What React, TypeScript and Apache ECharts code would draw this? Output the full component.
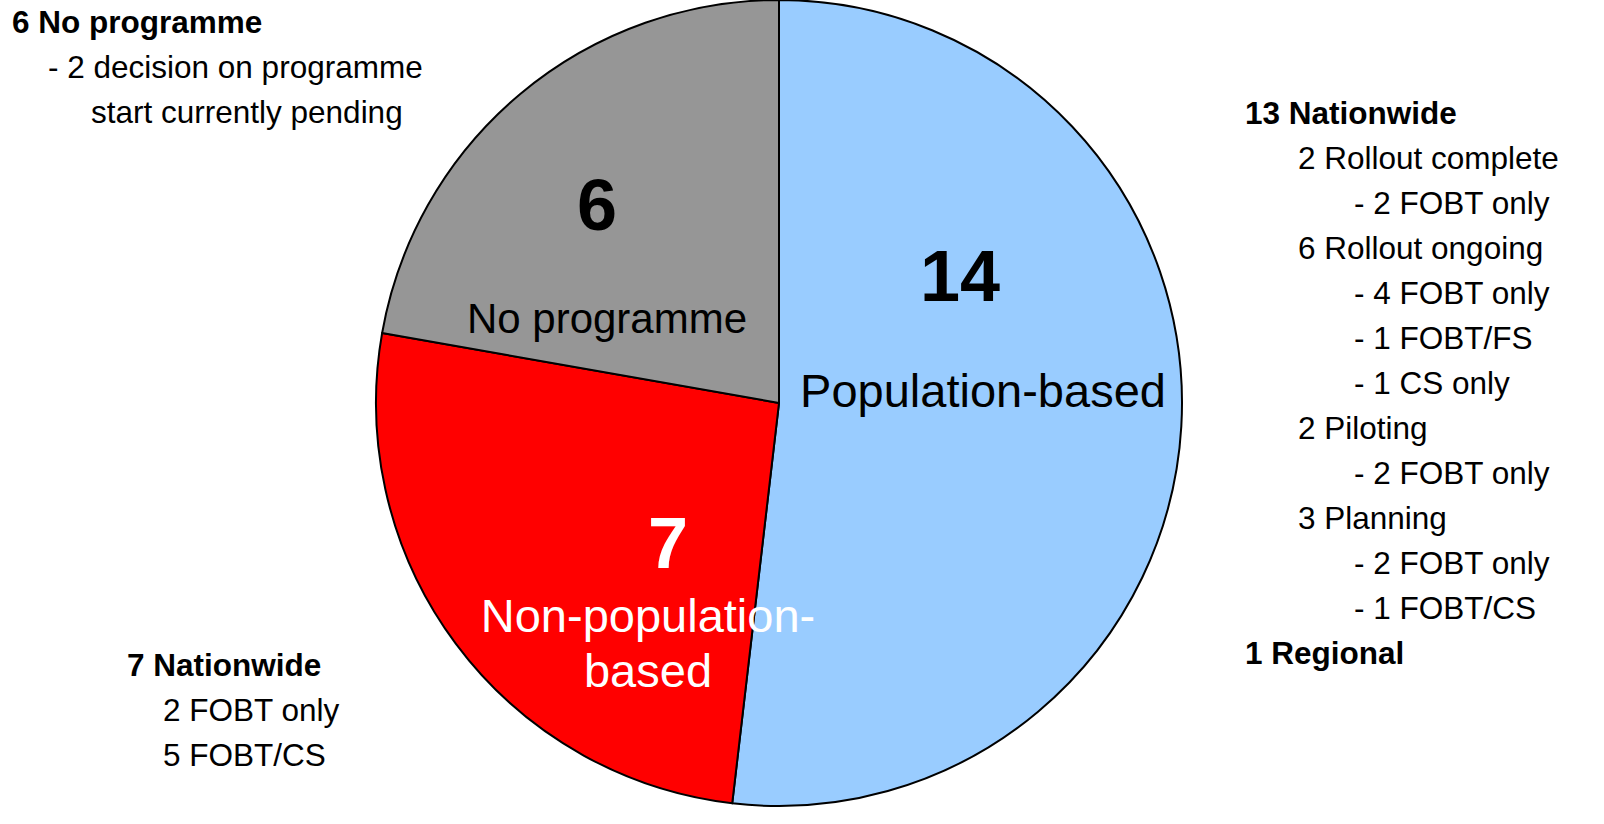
import React, { useEffect, useRef } from "react";
import * as echarts from "echarts";

const categories = ["Population-based", "Non-population-\nbased", "No programme"];
const values = [14, 7, 6];
const colors = ["#99CCFF", "#FF0000", "#969696"];
const labelColors = ["#000000", "#FFFFFF", "#000000"];

const rightNotes = [
  { text: "13 Nationwide", level: 0 },
  { text: "2 Rollout complete", level: 1 },
  { text: "- 2 FOBT only", level: 2 },
  { text: "6 Rollout ongoing", level: 1 },
  { text: "- 4 FOBT only", level: 2 },
  { text: "- 1 FOBT/FS", level: 2 },
  { text: "- 1 CS only", level: 2 },
  { text: "2 Piloting", level: 1 },
  { text: "- 2 FOBT only", level: 2 },
  { text: "3 Planning", level: 1 },
  { text: "- 2 FOBT only", level: 2 },
  { text: "- 1 FOBT/CS", level: 2 },
  { text: "1 Regional", level: 0 },
];
const leftBottomNotes = [
  { text: "7 Nationwide", level: 0 },
  { text: "2 FOBT only", level: 1 },
  { text: "5 FOBT/CS", level: 1 },
];
const topLeftNotes = [
  { text: "6 No programme", level: 0 },
  { text: "- 2 decision on programme", level: 1 },
  { text: "start currently pending", level: 2 },
];

const FONT = "'Liberation Sans', Arial, sans-serif";

export default function App() {
  const ref = useRef<HTMLDivElement>(null);
  useEffect(() => {
    if (!ref.current) return;
    const chart = echarts.init(ref.current, undefined, { renderer: "svg" });

    const noteText = (
      items: { text: string; level: number }[],
      x0: number[],
      y0: number,
      step: number
    ) =>
      items.map((it, i) => ({
        type: "text",
        x: x0[it.level],
        y: y0 + i * step,
        style: {
          text: it.text,
          fontFamily: FONT,
          fontSize: 31.5,
          fontWeight: it.level === 0 ? "bold" : "normal",
          fill: "#000",
          textAlign: "left",
          textVerticalAlign: "middle",
        },
      }));

    const numPos = [
      [960, 276],
      [668, 543],
      [597, 205],
    ];
    const namePos = [
      [983, 390],
      [648, 643],
      [607, 318],
    ];
    const nameSize = [47, 47, 42];

    const sliceLabels: any[] = [];
    values.forEach((v, i) => {
      sliceLabels.push({
        type: "text",
        x: numPos[i][0],
        y: numPos[i][1],
        z: 10,
        style: {
          text: String(v),
          fontFamily: FONT,
          fontSize: 72,
          fontWeight: "bold",
          fill: labelColors[i],
          textAlign: "center",
          textVerticalAlign: "middle",
        },
      });
      sliceLabels.push({
        type: "text",
        x: namePos[i][0],
        y: namePos[i][1],
        z: 10,
        style: {
          text: categories[i],
          fontFamily: FONT,
          fontSize: nameSize[i],
          lineHeight: 55,
          fill: labelColors[i],
          textAlign: "center",
          textVerticalAlign: "middle",
        },
      });
    });

    chart.setOption({
      animation: false,
      backgroundColor: "#ffffff",
      series: [
        {
          type: "pie",
          center: [779, 403],
          radius: 403,
          startAngle: 90,
          clockwise: true,
          label: { show: false },
          labelLine: { show: false },
          silent: true,
          itemStyle: { borderColor: "#000", borderWidth: 2 },
          data: values.map((v, i) => ({
            value: v,
            name: categories[i],
            itemStyle: { color: colors[i] },
          })),
        },
      ],
      graphic: [
        ...sliceLabels,
        ...noteText(rightNotes, [1245, 1298, 1354], 113, 45),
        ...noteText(leftBottomNotes, [127, 163], 665, 45),
        ...noteText(topLeftNotes, [12, 48, 91], 22, 45),
      ],
    });
    return () => chart.dispose();
  }, []);
  return (
    <div
      ref={ref}
      style={{ position: "absolute", left: 0, top: 0, width: 1604, height: 824 }}
    />
  );
}
